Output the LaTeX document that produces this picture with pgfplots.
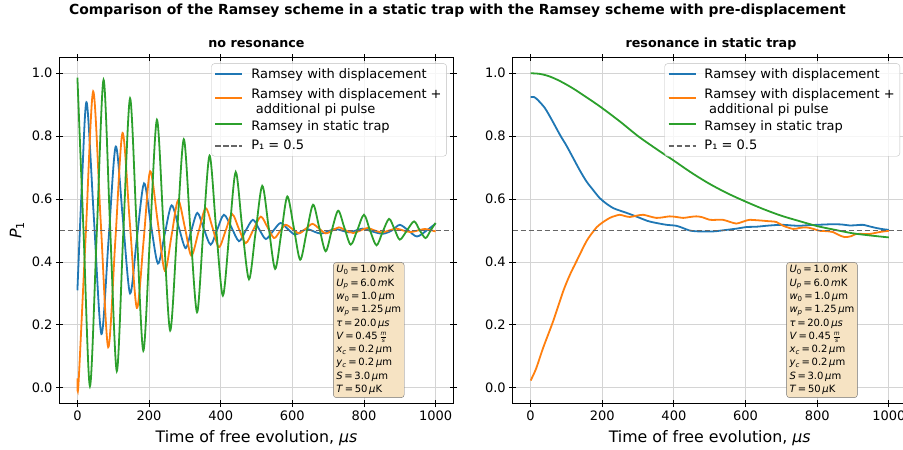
\documentclass[border=0pt]{standalone}
\usepackage{pgfplots}
\pgfplotsset{compat=1.18}
\usepackage{fontspec}
\setmainfont{DejaVu Sans}
\definecolor{c0}{HTML}{1F77B4}
\definecolor{c1}{HTML}{FF7F0E}
\definecolor{c2}{HTML}{2CA02C}
\definecolor{boxfill}{RGB}{246,227,195}
\pgfplotsset{
  myaxis/.style={
    scale only axis, width=394bp, height=346bp,
    xmin=-50, xmax=1050, ymin=-0.05, ymax=1.05,
    xtick={0,200,400,600,800,1000}, ytick={0,0.2,0.4,0.6,0.8,1.0},
    grid=major, major grid style={draw=black!17, line width=0.8bp},
    tick align=center, major tick length=7bp,
    tick style={black, line width=0.8bp},
    axis line style={line width=1bp},
    ticklabel style={font=\fontsize{13bp}{15bp}\selectfont},
    /pgf/number format/assume math mode=true,
    /pgf/number format/1000 sep={},
    yticklabel style={/pgf/number format/fixed,/pgf/number format/fixed zerofill,/pgf/number format/precision=1},
    xlabel={Time of free evolution, \textit{μs}},
    xlabel style={font=\fontsize{15.8bp}{17bp}\selectfont, yshift=-3bp},
    legend style={at={(0.983,0.983)}, anchor=north east,
      font=\fontsize{13bp}{14.4bp}\selectfont,
      draw=black!25, rounded corners=3bp, fill=white, fill opacity=0.8, text opacity=1,
      inner xsep=3bp, inner ysep=3bp, row sep=4.6bp,
      /tikz/every odd column/.append style={column sep=6bp}},
    legend cell align=left,
    legend image code/.code={\draw[line width=1.8bp,#1] (0bp,0bp) -- (27bp,0bp);},
    every axis plot/.append style={line width=1.8bp},
  }
}
\newcommand{\twoline}{\begin{tabular}{@{}l@{}}Ramsey with displacement +\\\hspace{0.35em}additional pi pulse\end{tabular}}
\newcommand{\paramtext}{%
\textit{U}\textsubscript{0}\,=\,1.0\,\textit{m}K\\
\textit{U}\textsubscript{\textit{p}}\,=\,6.0\,\textit{m}K\\
\textit{w}\textsubscript{0}\,=\,1.0\,\textit{μ}m\\
\textit{w}\textsubscript{\textit{p}}\,=\,1.25\,\textit{μ}m\\
\textit{τ}\,=\,20.0\,\textit{μs}\\
\textit{V}\,=\,0.45\,$\frac{\mbox{\fontsize{6bp}{6bp}\selectfont\itshape m}}{\mbox{\fontsize{6bp}{6bp}\selectfont\itshape s}}$\\
\textit{x}\textsubscript{\textit{c}}\,=\,0.2\,\textit{μ}m\\
\textit{y}\textsubscript{\textit{c}}\,=\,0.2\,\textit{μ}m\\
\textit{S}\,=\,3.0\,\textit{μ}m\\
\textit{T}\,=\,50\,\textit{μ}K}
\tikzset{parambox/.style={draw=black!55, fill=boxfill, rounded corners=3bp, inner sep=3bp,
  align=left, font=\fontsize{10bp}{13.3bp}\selectfont, anchor=south west}}
\begin{document}
\begin{tikzpicture}
\node[font=\bfseries\fontsize{13.9bp}{16bp}\selectfont] at (457.5bp,-11bp) {Comparison of the Ramsey scheme in a static trap with the Ramsey scheme with pre-displacement};
\node[font=\bfseries\fontsize{12.7bp}{15bp}\selectfont] at (256.5bp,-44bp) {no resonance};
\node[font=\bfseries\fontsize{12.7bp}{15bp}\selectfont] at (711bp,-44bp) {resonance in static trap};
\node[rotate=90, font=\fontsize{15.8bp}{17bp}\selectfont] at (17bp,-230bp) {\textit{P}\textsubscript{1}};
% left axis
\begin{axis}[myaxis, at={(59.5bp,-403.5bp)}, anchor=south west]
\addplot[c0, smooth] coordinates {(0,0.31)(13,0.66)(26,0.907)(46,0.54)(67,0.171)(87,0.47)(107,0.767)(127,0.535)(147,0.30)(166,0.475)(186,0.65)(205,0.52)(225,0.395)(244,0.49)(263,0.58)(283,0.51)(302,0.444)(318,0.50)(335,0.556)(353,0.505)(372,0.455)(390,0.502)(409,0.55)(430,0.51)(451,0.466)(470,0.50)(490,0.534)(508,0.503)(526,0.473)(546,0.498)(567,0.524)(587,0.505)(607,0.487)(624,0.496)(641,0.505)(660,0.497)(679,0.49)(698,0.496)(718,0.505)(738,0.50)(758,0.494)(778,0.50)(796,0.506)(815,0.50)(835,0.493)(855,0.49)(878,0.50)(900,0.518)(924,0.50)(948,0.481)(975,0.50)(1000,0.522)};
\addlegendentry{Ramsey with displacement}
\addplot[c1, smooth] coordinates {(0,0.03)(3,0.012)(23,0.48)(44,0.942)(65,0.53)(86,0.129)(106,0.47)(126,0.81)(146,0.53)(166,0.254)(185,0.47)(203,0.688)(224,0.53)(244,0.372)(263,0.485)(281,0.596)(300,0.51)(318,0.42)(338,0.495)(358,0.571)(377,0.51)(395,0.447)(414,0.50)(432,0.552)(451,0.505)(470,0.46)(491,0.502)(512,0.544)(531,0.51)(549,0.476)(565,0.497)(581,0.518)(600,0.505)(619,0.491)(638,0.506)(656,0.521)(675,0.506)(693,0.491)(712,0.50)(730,0.51)(750,0.50)(770,0.492)(790,0.50)(810,0.508)(830,0.50)(850,0.494)(870,0.50)(890,0.506)(910,0.50)(930,0.495)(950,0.50)(970,0.505)(990,0.50)(1000,0.497)};
\addlegendentry{\twoline}
\addplot[c2, smooth] coordinates {(0,0.986)(17,0.5)(35,0.005)(54,0.49)(73,0.979)(91,0.52)(110,0.053)(128,0.49)(147,0.92)(165,0.52)(184,0.118)(203,0.49)(222,0.852)(240,0.52)(259,0.182)(278,0.49)(297,0.79)(315,0.51)(334,0.24)(351,0.49)(369,0.738)(387,0.51)(406,0.293)(424,0.49)(442,0.686)(460,0.51)(479,0.345)(497,0.49)(516,0.642)(534,0.51)(552,0.378)(569,0.49)(586,0.608)(604,0.51)(622,0.407)(640,0.495)(658,0.582)(675,0.51)(693,0.434)(710,0.5)(728,0.563)(745,0.51)(763,0.455)(781,0.5)(800,0.55)(817,0.50)(835,0.453)(852,0.495)(870,0.537)(885,0.505)(900,0.471)(920,0.50)(940,0.529)(956,0.50)(972,0.476)(986,0.50)(1000,0.524)};
\addlegendentry{\rule{0pt}{14bp}Ramsey in static trap}
\addplot[black!60, line width=1.3bp, dash pattern=on 5.5bp off 2.5bp] coordinates {(-50,0.5)(1050,0.5)};
\addlegendentry{\rule[-6.5bp]{0pt}{11.3bp}P₁ = 0.5}
\node[parambox] at (axis cs:714,-0.032) {\paramtext};
\end{axis}
% right axis
\begin{axis}[myaxis, at={(512.7bp,-403.5bp)}, anchor=south west]
\addplot[c0, smooth] coordinates {(0,0.924)(10,0.924)(20,0.915)(40,0.889)(60,0.85)(82,0.804)(100,0.77)(119,0.73)(138,0.69)(156,0.656)(175,0.628)(193,0.603)(212,0.585)(231,0.571)(250,0.563)(268,0.556)(287,0.548)(305,0.54)(325,0.531)(342,0.526)(360,0.522)(380,0.518)(407,0.515)(425,0.508)(444,0.5)(470,0.497)(509,0.497)(547,0.502)(575,0.506)(603,0.511)(630,0.512)(658,0.515)(680,0.517)(705,0.518)(730,0.516)(751,0.515)(775,0.517)(798,0.518)(820,0.519)(844,0.520)(870,0.519)(891,0.516)(910,0.517)(928,0.518)(950,0.512)(965,0.508)(985,0.504)(1000,0.502)};
\addlegendentry{Ramsey with displacement}
\addplot[c1, smooth] coordinates {(0,0.023)(15,0.06)(35,0.127)(63,0.212)(91,0.307)(110,0.36)(128,0.402)(156,0.466)(175,0.497)(184,0.51)(200,0.525)(221,0.54)(235,0.546)(249,0.55)(263,0.546)(277,0.543)(295,0.547)(314,0.55)(332,0.545)(351,0.54)(370,0.542)(388,0.545)(407,0.543)(426,0.54)(445,0.543)(463,0.545)(480,0.542)(500,0.534)(520,0.534)(537,0.534)(555,0.528)(574,0.522)(590,0.527)(603,0.532)(612,0.534)(640,0.532)(660,0.530)(686,0.527)(705,0.515)(733,0.505)(750,0.508)(770,0.51)(790,0.505)(807,0.499)(825,0.498)(844,0.495)(860,0.486)(877,0.479)(895,0.482)(909,0.489)(930,0.489)(947,0.489)(965,0.493)(979,0.496)(1000,0.499)};
\addlegendentry{\twoline}
\addplot[c2, smooth] coordinates {(0,1.0)(25,0.998)(50,0.991)(75,0.979)(100,0.964)(125,0.947)(150,0.928)(175,0.909)(200,0.889)(250,0.846)(300,0.800)(350,0.760)(400,0.722)(450,0.683)(500,0.648)(550,0.618)(600,0.592)(650,0.568)(700,0.547)(750,0.53)(800,0.514)(850,0.502)(900,0.491)(950,0.484)(1000,0.478)};
\addlegendentry{\rule{0pt}{14bp}Ramsey in static trap}
\addplot[black!60, line width=1.3bp, dash pattern=on 5.5bp off 2.5bp] coordinates {(-50,0.5)(1050,0.5)};
\addlegendentry{\rule[-6.5bp]{0pt}{11.3bp}P₁ = 0.5}
\node[parambox] at (axis cs:714,-0.032) {\paramtext};
\end{axis}
\pgfresetboundingbox
\path[use as bounding box] (0bp,0bp) rectangle (903bp,-450bp);
\end{tikzpicture}
\end{document}
